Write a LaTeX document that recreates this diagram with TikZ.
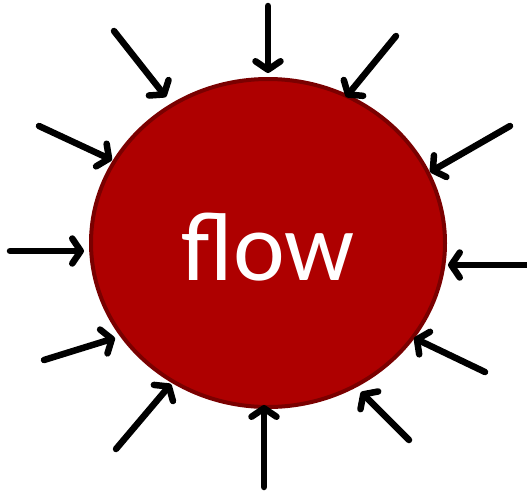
\documentclass[tikz,border=0pt]{standalone}
\usepackage{fontspec}
\setmainfont{Carlito}
\usetikzlibrary{arrows.meta,shapes.geometric}
\definecolor{blobfill}{HTML}{AE0000}
\definecolor{blobedge}{HTML}{7A0000}
\begin{document}
\begin{tikzpicture}[x=1pt,y=-1pt,
  inarrow/.style={line width=6.5pt,line cap=round,black,
    -{Straight Barb[length=8.5pt,width=25pt,line cap=round,line join=round]}}]
\useasboundingbox (0,0) rectangle (527,491);
\node[ellipse,draw=blobedge,line width=4pt,fill=blobfill,
  minimum width=354pt,minimum height=328pt,inner sep=0pt] (blob) at (268,243) {};
\node[text=white,font=\fontsize{98}{100}\selectfont] (label) at (268,247) {flow};
% start and tip coordinates
\coordinate (s1) at (268,6);   \coordinate (t1) at (268,73);
\coordinate (s2) at (396,36);  \coordinate (t2) at (346,97);
\coordinate (s3) at (510,126); \coordinate (t3) at (430,172);
\coordinate (s4) at (527,265); \coordinate (t4) at (448,265);
\coordinate (s5) at (485,372); \coordinate (t5) at (414,338);
\coordinate (s6) at (409,440); \coordinate (t6) at (361,392);
\coordinate (s7) at (264,487); \coordinate (t7) at (264,405);
\coordinate (s8) at (116,449); \coordinate (t8) at (171,384);
\coordinate (s9) at (44,360);  \coordinate (t9) at (115,338);
\coordinate (s10) at (10,251); \coordinate (t10) at (84,251);
\coordinate (s11) at (39,126); \coordinate (t11) at (112,160);
\coordinate (s12) at (114,31); \coordinate (t12) at (166,97);
\foreach \i in {1,...,12} { \draw[inarrow] (s\i) -- (t\i); }
\end{tikzpicture}
\end{document}
